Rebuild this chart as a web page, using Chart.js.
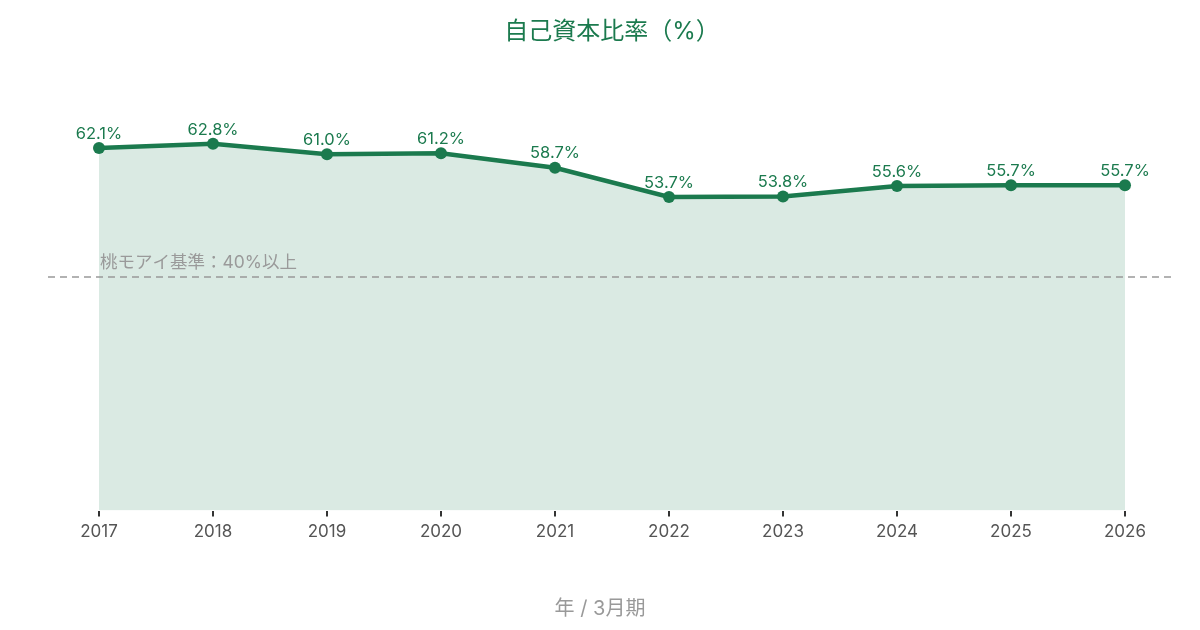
<!DOCTYPE html>
<html>
<head>
<meta charset="utf-8">
<script src="https://cdn.jsdelivr.net/npm/chart.js@4/dist/chart.umd.min.js"></script>
<style>
  html, body { margin: 0; padding: 0; background: #fff; }
  #wrap { width: 1200px; height: 630px; }
</style>
</head>
<body>
<div id="wrap"><canvas id="chart"></canvas></div>
<script>
const years = ['2017', '2018', '2019', '2020', '2021', '2022', '2023', '2024', '2025', '2026'];
const equityRatio = [62.1, 62.8, 61.0, 61.2, 58.7, 53.7, 53.8, 55.6, 55.7, 55.7];
const benchmarkValue = 40;
const benchmarkLabel = '桃モアイ基準：40%以上';
const xAxisTitle = '年 / 3月期';

const GREEN = '#1b7a4e';
const FONT = 'Inter, "Noto Sans CJK JP", sans-serif';

// value labels above each point
const pointLabels = {
    id: 'pointLabels',
    afterDatasetsDraw(chart) {
        const ctx = chart.ctx;
        const meta = chart.getDatasetMeta(0);
        ctx.save();
        ctx.font = '16.5px ' + FONT;
        ctx.fillStyle = GREEN;
        ctx.textAlign = 'center';
        ctx.textBaseline = 'bottom';
        meta.data.forEach((pt, i) => {
            ctx.fillText(equityRatio[i].toFixed(1) + '%', pt.x, pt.y - 6);
        });
        ctx.restore();
    }
};

// dashed benchmark line + axis title centred on the canvas
const benchmark = {
    id: 'benchmark',
    afterDatasetsDraw(chart) {
        const { ctx, chartArea, scales } = chart;
        const y = scales.y.getPixelForValue(benchmarkValue);
        ctx.save();
        ctx.strokeStyle = '#999';
        ctx.lineWidth = 1.5;
        ctx.setLineDash([7, 5]);
        ctx.beginPath();
        ctx.moveTo(chartArea.left + 6, y);
        ctx.lineTo(chartArea.right - 6, y);
        ctx.stroke();
        ctx.setLineDash([]);
        ctx.font = '17.5px ' + FONT;
        ctx.fillStyle = '#9a9a9a';
        ctx.textAlign = 'left';
        ctx.textBaseline = 'bottom';
        const x0 = scales.x.getPixelForValue(0);
        ctx.fillText(benchmarkLabel, x0 + 1, y - 6);

        ctx.font = '20px ' + FONT;
        ctx.fillStyle = '#999';
        ctx.textAlign = 'center';
        ctx.textBaseline = 'middle';
        ctx.fillText(xAxisTitle, chart.width / 2, 609);
        ctx.restore();
    }
};

new Chart(document.getElementById('chart'), {
    type: 'line',
    data: {
        labels: years,
        datasets: [{
            data: equityRatio,
            borderColor: GREEN,
            borderWidth: 4.5,
            backgroundColor: 'rgba(27, 122, 78, 0.16)',
            fill: 'origin',
            tension: 0,
            pointRadius: 6,
            pointHoverRadius: 6,
            pointBackgroundColor: GREEN,
            pointBorderColor: GREEN,
            pointBorderWidth: 0
        }]
    },
    options: {
        responsive: true,
        maintainAspectRatio: false,
        animation: false,
        layout: { padding: { left: 42, right: 18, top: 0, bottom: 83 } },
        scales: {
            y: { display: false, min: 0, max: 70 },
            x: {
                offset: true,
                border: { display: false },
                grid: { drawOnChartArea: false, drawTicks: true, tickLength: 6, color: '#333', lineWidth: 2 },
                ticks: { color: '#555', font: { family: FONT, size: 17 }, padding: 5 }
            }
        },
        plugins: {
            legend: { display: false },
            tooltip: { enabled: false },
            title: {
                display: true,
                text: '自己資本比率（%）',
                color: GREEN,
                font: { family: FONT, size: 24, weight: 'normal' },
                padding: { top: 17, bottom: 56 }
            }
        }
    },
    plugins: [pointLabels, benchmark]
});
</script>
</body>
</html>
